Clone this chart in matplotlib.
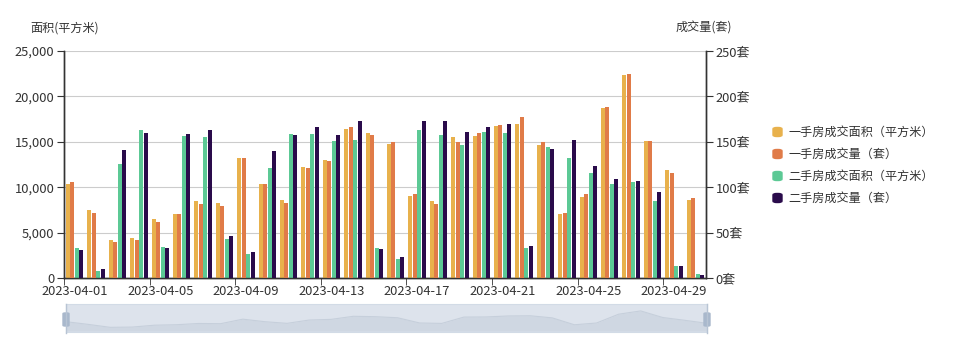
import numpy as np
import matplotlib
matplotlib.use("Agg")
import matplotlib.pyplot as plt
from matplotlib.patches import FancyBboxPatch

plt.rcParams['font.family'] = ['Noto Sans CJK SC', 'DejaVu Sans']

dates = ["2023-04-%02d" % d for d in range(1, 31)]

# 一手房成交面积 (平方米)
new_area = [10400, 7450, 4160, 4450, 6530, 7050, 8430, 8210, 13210, 10400,
            8580, 12230, 12990, 16390, 15950, 14780, 8980, 8500, 15510, 15660,
            16750, 16970, 14640, 7010, 8940, 18690, 22340, 15040, 11940, 8610]
# 一手房成交量 (套)
new_count = [106, 72, 40, 42, 62, 70, 81, 79, 132, 103,
             83, 121, 129, 166, 158, 150, 92, 82, 150, 160,
             169, 177, 150, 72, 93, 188, 225, 151, 116, 88]
# 二手房成交面积 (平方米)
old_area = [3290, 800, 12590, 16320, 3400, 15590, 15480, 4350, 2630, 12160,
            15880, 15840, 15110, 15220, 3290, 2080, 16320, 15700, 14670, 16130,
            15950, 3290, 14380, 13210, 11530, 10330, 10620, 8500, 1350, 400]
# 二手房成交量 (套)
old_count = [31, 9.5, 141, 160, 33, 159, 163, 46, 29, 140,
             158, 166, 158, 173, 32, 23, 173, 173, 161, 166,
             170, 35, 142, 152, 123, 109, 107, 95, 13, 3]

names = ["一手房成交面积（平方米）", "一手房成交量（套）", "二手房成交面积（平方米）", "二手房成交量（套）"]
colors = ["#e8b14c", "#e07b48", "#5cc995", "#2a0b4b"]

fig = plt.figure(figsize=(9.55, 3.54), dpi=100)
W, H = 955, 354
ax = fig.add_axes([64 / W, 76 / H, 642 / W, 227 / H])
ax2 = ax.twinx()

x = np.arange(len(dates))
bw = 0.185
offs = [-0.31, -0.105, 0.105, 0.31]
ax.bar(x + offs[0], new_area, bw, color=colors[0], zorder=3)
ax2.bar(x + offs[1], new_count, bw, color=colors[1], zorder=3)
ax.bar(x + offs[2], old_area, bw, color=colors[2], zorder=3)
ax2.bar(x + offs[3], old_count, bw, color=colors[3], zorder=3)

ax.set_xlim(-0.5, len(dates) - 0.5)
ax.set_ylim(0, 25000)
ax2.set_ylim(0, 250)
ax.set_yticks(range(0, 25001, 5000))
ax.set_yticklabels(["{:,}".format(v) for v in range(0, 25001, 5000)])
ax2.set_yticks(range(0, 251, 50))
ax2.set_yticklabels(["%d套" % v for v in range(0, 251, 50)])

ax.yaxis.grid(True, color="#cccccc", linewidth=0.8, zorder=0)
ax.set_axisbelow(True)

ax.set_xticks(x[::4])
ax.set_xticklabels(dates[::4])
ax.set_xticks(np.arange(-0.5, len(dates), 4), minor=True)
ax.tick_params(axis="x", which="major", length=0, pad=5, labelsize=9.3, colors="#333333")
ax.tick_params(axis="x", which="minor", length=5, color="#333333")
ax.tick_params(axis="y", length=5, color="#333333", labelsize=9.3, labelcolor="#333333", pad=2)
ax2.tick_params(axis="y", length=5, color="#333333", labelsize=9.3, labelcolor="#333333", pad=2)

for a in (ax, ax2):
    a.spines["top"].set_visible(False)
    for s in ("left", "right", "bottom"):
        a.spines[s].set_color("#333333")
        a.spines[s].set_linewidth(1)

fig.text(30 / W, 1 - 28 / H, "面积(平方米)", fontsize=8.7, color="#333333", va="center")
fig.text(676 / W, 1 - 28 / H, "成交量(套)", fontsize=8.7, color="#333333", va="center")

# legend
for i, (n, c) in enumerate(zip(names, colors)):
    yy = 1 - (132 + i * 22) / H
    fig.patches.append(FancyBboxPatch((773 / W, yy - 4.5 / H), 9 / W, 9 / H,
                                      boxstyle="round,pad=0,rounding_size=0.004",
                                      transform=fig.transFigure, color=c))
    fig.text(788 / W, yy, n, fontsize=8.7, color="#333333", va="center")

# data zoom slider
sl = fig.add_axes([66 / W, 22 / H, 641 / W, 28 / H])
sl.set_facecolor("#dde3ec")
sl.fill_between(x, new_area, 0, color="#cfd7e2", linewidth=0)
sl.plot(x, new_area, color="#c6cfdb", linewidth=0.8)
sl.set_xlim(0, len(dates) - 1)
sl.set_ylim(-1000, 30000)
sl.set_xticks([])
sl.set_yticks([])
for s in sl.spines.values():
    s.set_color("#d2dbe6")
for hx in (66, 707):
    fig.patches.append(FancyBboxPatch(((hx - 3) / W, 1 - 326 / H), 6 / W, 13 / H,
                                      boxstyle="round,pad=0,rounding_size=0.002",
                                      transform=fig.transFigure, color="#a9b8cc"))
    fig.lines.append(plt.Line2D([hx / W, hx / W], [1 - 333 / H, 1 - 304 / H],
                                transform=fig.transFigure, color="#b8c4d4", linewidth=1))

fig.savefig("out.png", dpi=100)
